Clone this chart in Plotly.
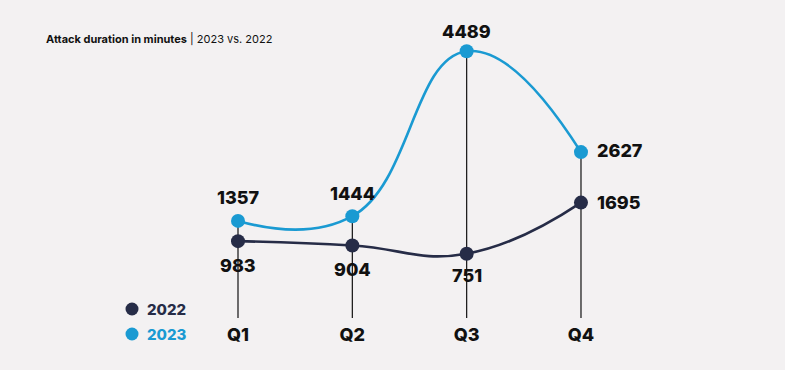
import plotly.graph_objects as go

quarters = ["Q1", "Q2", "Q3", "Q4"]
vals_2022 = [983, 904, 751, 1695]
vals_2023 = [1357, 1444, 4489, 2627]

C22 = "#262c47"
C23 = "#1a9ad2"
BG = "#f3f1f2"
FONT = "Inter"
PLOT_H = 322  # plot-area height in px (paper coordinates refer to it)

x = list(range(len(quarters)))

fig = go.Figure()

# vertical stems per quarter
for i, q in enumerate(quarters):
    top = max(vals_2022[i], vals_2023[i])
    fig.add_shape(type="line", xref="x", yref="y", x0=i, x1=i, y0=top, y1=-436,
                  line=dict(color="#111111", width=1.2), layer="below")

fig.add_trace(go.Scatter(x=x, y=vals_2022, mode="lines+markers", name="2022",
                         line=dict(color=C22, width=2.6, shape="spline", smoothing=1.3),
                         marker=dict(size=14, color=C22), showlegend=False, hoverinfo="skip"))
fig.add_trace(go.Scatter(x=x, y=vals_2023, mode="lines+markers", name="2023",
                         line=dict(color=C23, width=2.6, shape="spline", smoothing=1.3),
                         marker=dict(size=14, color=C23), showlegend=False, hoverinfo="skip"))

lab_font = dict(family=FONT, size=18, color="#111111", weight=800)
for i, v in enumerate(vals_2023):
    if i == len(vals_2023) - 1:
        fig.add_annotation(x=i, y=v, text=str(v), showarrow=False, xanchor="left",
                           xshift=14, yshift=2, font=lab_font)
    else:
        fig.add_annotation(x=i, y=v, text=str(v), showarrow=False, yshift=23 if i < 2 else 20,
                           font=lab_font)
for i, v in enumerate(vals_2022):
    if i == len(vals_2022) - 1:
        fig.add_annotation(x=i, y=v, text=str(v), showarrow=False, xanchor="left",
                           xshift=14, font=lab_font)
    else:
        fig.add_annotation(x=i, y=v, text=str(v), showarrow=False, yshift=-24 if i < 2 else -22,
                           font=lab_font)

# title
fig.add_annotation(xref="paper", yref="paper", x=44/785, y=1-39/PLOT_H, xanchor="left", yanchor="middle",
                   text="<b>Attack duration in minutes</b> | 2023 vs. 2022", showarrow=False,
                   font=dict(family=FONT, size=11, color="#111111"))

# legend
for name, col, ypx in [("2022", C22, 309), ("2023", C23, 334)]:
    fig.add_shape(type="circle", xref="paper", yref="paper",
                  x0=(132-6.5)/785, x1=(132+6.5)/785, y0=1-(ypx+6.5)/PLOT_H, y1=1-(ypx-6.5)/PLOT_H,
                  fillcolor=col, line=dict(width=0))
    fig.add_annotation(xref="paper", yref="paper", x=145/785, y=1-ypx/PLOT_H, xanchor="left",
                       yanchor="middle", text=name, showarrow=False,
                       font=dict(family=FONT, size=15, color=col, weight=800))

fig.update_layout(
    width=785, height=370,
    margin=dict(l=0, r=0, t=0, b=370-PLOT_H),
    paper_bgcolor=BG, plot_bgcolor=BG,
    xaxis=dict(range=[-238/114.33, (785-238)/114.33], tickvals=x, ticktext=quarters,
               showgrid=False, zeroline=False, showline=False, ticks="",
               tickfont=dict(family=FONT, size=18, color="#111111", weight=800), fixedrange=True),
    yaxis=dict(range=[-510, 5436], visible=False, fixedrange=True),
    showlegend=False,
)

fig.write_html("out.html", config={"displayModeBar": False},
               post_script="document.body.style.margin='0';document.body.style.overflow='hidden';"
                           "document.body.style.background='" + BG + "';")
